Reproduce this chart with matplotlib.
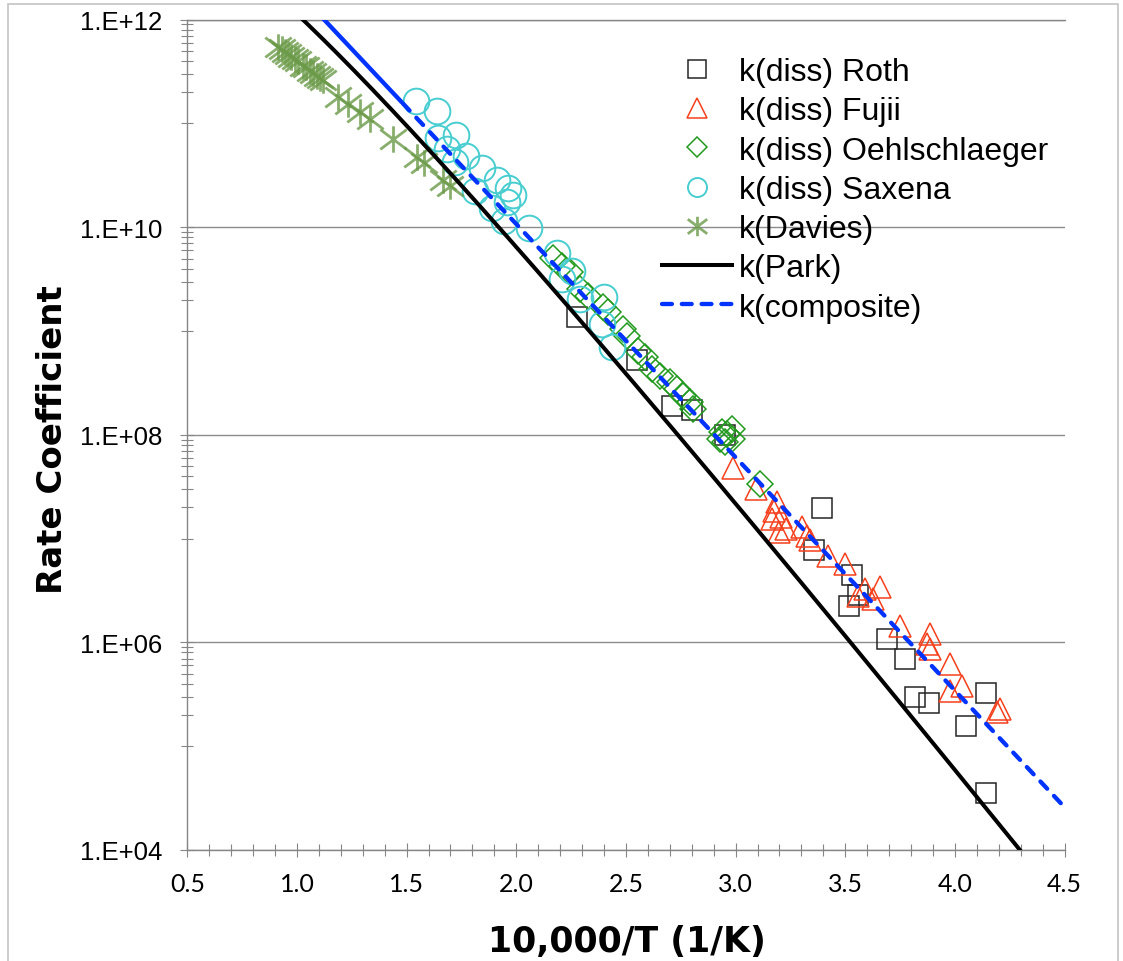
import numpy as np
import matplotlib
matplotlib.use("Agg")
import matplotlib.pyplot as plt
from matplotlib.path import Path
from matplotlib.patches import Rectangle
from matplotlib.ticker import FixedLocator, MultipleLocator, FuncFormatter, NullFormatter

# 10,000/T and log10(rate coefficient)
roth_x = [2.277, 2.551, 2.710, 2.801, 2.952, 3.395, 3.359, 3.531, 3.558, 3.517,
          3.691, 3.773, 3.818, 3.882, 4.141, 4.051, 4.141]
roth_logk = [9.136, 8.722, 8.278, 8.240, 7.999, 7.296, 6.891, 6.650, 6.458, 6.352,
             6.034, 5.841, 5.475, 5.417, 5.513, 5.196, 4.550]

fujii_x = [2.989, 3.094, 3.189, 3.176, 3.208, 3.167, 3.231, 3.199, 3.304, 3.327,
           3.340, 3.422, 3.499, 3.590, 3.659, 3.627, 3.558, 3.750, 3.886, 3.873,
           3.886, 3.978, 4.032, 3.978, 4.206, 4.192]
fujii_logk = [7.681, 7.479, 7.354, 7.267, 7.209, 7.190, 7.093, 7.064, 7.112, 7.026,
              6.988, 6.833, 6.756, 6.515, 6.534, 6.419, 6.448, 6.159, 6.082, 5.985,
              5.937, 5.793, 5.581, 5.532, 5.359, 5.330]

oehl_x = [2.168, 2.209, 2.246, 2.291, 2.327, 2.395, 2.418, 2.487, 2.505, 2.555,
          2.587, 2.619, 2.655, 2.701, 2.732, 2.760, 2.791, 2.805, 2.930, 2.939,
          2.952, 2.962, 2.984, 2.984, 3.112]
oehl_logk = [9.704, 9.627, 9.569, 9.406, 9.338, 9.232, 9.184, 9.020, 8.953, 8.808,
             8.750, 8.635, 8.567, 8.510, 8.442, 8.375, 8.317, 8.249, 7.960, 8.028,
             7.931, 8.009, 8.057, 7.960, 7.527]

saxena_x = [1.542, 1.638, 1.642, 1.725, 1.684, 1.770, 1.720, 1.844, 1.912, 1.812,
            1.962, 1.985, 1.890, 1.958, 1.944, 2.058, 2.187, 2.255, 2.209, 2.291,
            2.400, 2.391, 2.436]
saxena_logk = [11.217, 11.120, 10.860, 10.889, 10.754, 10.687, 10.629, 10.571, 10.456, 10.350,
               10.379, 10.311, 10.186, 10.244, 10.061, 9.993, 9.752, 9.579, 9.502, 9.309,
               9.328, 9.068, 8.847]

davies_x = [0.914, 0.932, 0.946, 0.959, 0.973, 0.991, 1.005, 1.027, 1.041, 1.059,
            1.073, 1.091, 1.105, 1.118, 1.186, 1.233, 1.287, 1.333, 1.437, 1.546,
            1.578, 1.665, 1.697]
davies_logk = [11.737, 11.718, 11.689, 11.670, 11.641, 11.621, 11.602, 11.554, 11.544, 11.506,
               11.487, 11.458, 11.438, 11.419, 11.255, 11.188, 11.111, 11.043, 10.851, 10.677,
               10.619, 10.456, 10.398]

# k = A * T**n * exp(-theta/T)
park_A, park_n, park_theta = 1.343e22, -1.82, 64316.0
comp_A, comp_n, comp_theta = 3.36e14, 0.0, 51753.0


def rate(x, A, n, theta):
    T = 1.0e4 / x
    return A * T ** n * np.exp(-theta / T)


W, H = 1123, 962
fig = plt.figure(figsize=(W / 100, H / 100), dpi=100)
ax = fig.add_axes([187.3 / W, 1 - 851 / H, 877.3 / W, 830.3 / H])

asterisk = Path([(0, -1), (0, 1), (-1, -0.75), (1, 0.75), (-1, 0.75), (1, -0.75)],
                [Path.MOVETO, Path.LINETO] * 3)

ax.plot(roth_x, 10 ** np.array(roth_logk), ls='none', marker='s', ms=14.8,
        mfc='none', mec='#262626', mew=1.1, label='k(diss) Roth')
ax.plot(fujii_x, 10 ** np.array(fujii_logk), ls='none', marker='^', ms=16,
        mfc='none', mec='#f5401c', mew=1.1, label='k(diss) Fujii')
ax.plot(oehl_x, 10 ** np.array(oehl_logk), ls='none', marker='D', ms=13.5,
        mfc='none', mec='#229a1e', mew=1.1, label='k(diss) Oehlschlaeger')
ax.plot(saxena_x, 10 ** np.array(saxena_logk), ls='none', marker='o', ms=18.5,
        mfc='none', mec='#48cdd0', mew=1.4, label='k(diss) Saxena')
ax.plot(davies_x, 10 ** np.array(davies_logk), ls='none', marker=asterisk, ms=19,
        mfc='none', mec='#6b9a48', mew=2.0, alpha=0.8, label='k(Davies)')

xx = np.linspace(0.5, 4.5, 400)
ax.plot(xx, rate(xx, park_A, park_n, park_theta), color='black', lw=2.9,
        zorder=5, label='k(Park)')
x_solid = xx[xx <= 1.48]
x_dash = xx[xx >= 1.48]
ax.plot(x_solid, rate(x_solid, comp_A, comp_n, comp_theta), color='#0033ff', lw=3.1,
        zorder=6)
ax.plot(x_dash, rate(x_dash, comp_A, comp_n, comp_theta), color='#0033ff', lw=3.1,
        ls=(0, (2.3, 2.3)), dash_capstyle='round', zorder=6, label='k(composite)')

ax.set_xlim(0.5, 4.5)
ax.set_yscale('log')
ax.set_ylim(1e4, 1e12)

ax.set_xticks(np.arange(0.5, 4.51, 0.5))
ax.xaxis.set_minor_locator(MultipleLocator(0.1))
ax.xaxis.set_major_formatter(FuncFormatter(lambda v, p: '%.1f' % v))
ax.set_yticks([1e4, 1e6, 1e8, 1e10, 1e12])
ax.yaxis.set_minor_locator(FixedLocator([j * 10.0 ** e for e in (5, 7, 9, 11) for j in range(1, 10)]))
ax.yaxis.set_major_formatter(FuncFormatter(lambda v, p: '1.E+%02d' % round(np.log10(v))))
ax.yaxis.set_minor_formatter(NullFormatter())

grey = '#868686'
ax.yaxis.grid(True, which='major', color='#8c8c8c', lw=1.0)
ax.set_axisbelow(True)
ax.spines['right'].set_visible(False)
for s in ('left', 'bottom', 'top'):
    ax.spines[s].set_color(grey)
    ax.spines[s].set_linewidth(1.0)

ax.tick_params(which='both', direction='inout', color=grey, width=0.8, top=False, right=False)
ax.tick_params(which='major', length=10)
ax.tick_params(which='minor', length=8)
ax.tick_params(axis='y', which='major', labelsize=18.5, pad=13)
ax.tick_params(axis='x', which='major', labelsize=18, pad=11)
for lab in ax.get_yticklabels():
    lab.set_fontfamily('Liberation Sans')
for lab in ax.get_xticklabels():
    lab.set_fontfamily('Lato')

ax.set_xlabel('10,000/T (1/K)', fontsize=25, fontweight='bold', va='center')
ax.xaxis.set_label_coords(0.5012, -0.1100)
ax.set_ylabel('Rate Coefficient', fontsize=24.5, fontweight='bold', va='center')
ax.yaxis.set_label_coords(-0.1542, 0.496)

leg = ax.legend(loc='upper left', bbox_to_anchor=(0.5411, 0.955), frameon=False,
                prop={'family': 'Liberation Sans', 'size': 23}, borderpad=0,
                borderaxespad=0, handlelength=2.2, handletextpad=0.22, labelspacing=0.29)
for h, ms in zip(leg.legend_handles[:5], (13.5, 14, 9.7, 13.7, 14)):
    h.set_markersize(ms)

fig.patches.append(Rectangle((8 / W, -0.01), (1118 - 8) / W, 1.01 - 5 / H, transform=fig.transFigure,
                             fill=False, edgecolor='#c4c4c4', lw=1.2))

fig.savefig('out.png', dpi=100)
